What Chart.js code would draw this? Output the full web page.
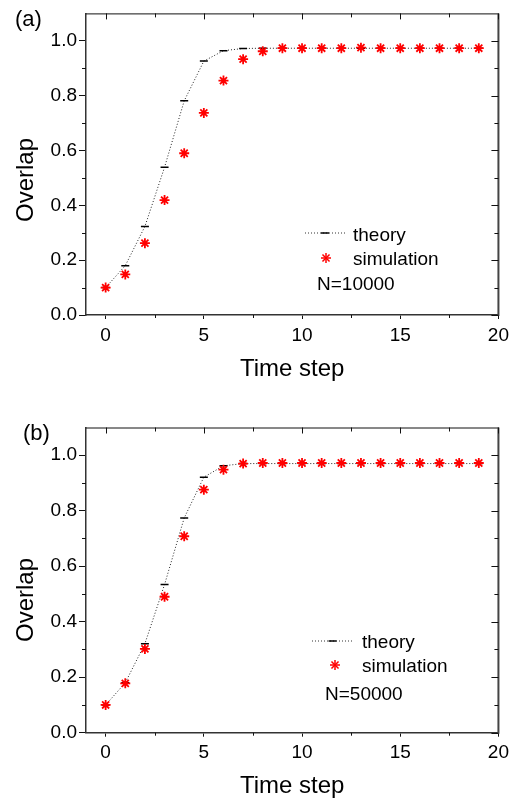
<!DOCTYPE html>
<html>
<head>
<meta charset="utf-8">
<script src="https://cdn.jsdelivr.net/npm/chart.js@4.4.1/dist/chart.umd.min.js"></script>
<style>
  body { margin: 0; background: #fff; }
  canvas { position: absolute; left: 0; }
  #chartA { top: 0; }
  #chartB { top: 400px; }
</style>
</head>
<body>
<canvas id="chartA" width="514" height="400"></canvas>
<canvas id="chartB" width="514" height="403"></canvas>
<script>
  // data
  var timeSteps = [0, 1, 2, 3, 4, 5, 6, 7, 8, 9, 10, 11, 12, 13, 14, 15, 16, 17, 18, 19];

  var theoryA = [0.100, 0.180, 0.323, 0.539, 0.781, 0.926, 0.964, 0.972, 0.973, 0.973,
                 0.973, 0.973, 0.973, 0.973, 0.973, 0.973, 0.973, 0.973, 0.973, 0.973];
  var simA    = [0.100, 0.148, 0.262, 0.419, 0.590, 0.737, 0.855, 0.933, 0.962, 0.973,
                 0.973, 0.973, 0.973, 0.975, 0.973, 0.973, 0.973, 0.973, 0.973, 0.973];

  var theoryB = [0.100, 0.180, 0.321, 0.534, 0.774, 0.921, 0.962, 0.970, 0.970, 0.970,
                 0.970, 0.970, 0.970, 0.970, 0.970, 0.970, 0.970, 0.970, 0.970, 0.970];
  var simB    = [0.100, 0.178, 0.302, 0.490, 0.708, 0.876, 0.948, 0.970, 0.972, 0.972,
                 0.972, 0.972, 0.972, 0.972, 0.972, 0.972, 0.972, 0.972, 0.972, 0.972];

  var xTicks = [0, 5, 10, 15, 20];
  var yTicks = [0, 0.2, 0.4, 0.6, 0.8, 1.0];

  Chart.defaults.font.family = '"Liberation Sans", Arial, sans-serif';
  Chart.defaults.color = '#000';

  function toPoints(ys) {
    return timeSteps.map(function (t, i) { return { x: t, y: ys[i] }; });
  }

  function seg(ctx, x1, y1, x2, y2) {
    ctx.beginPath(); ctx.moveTo(x1, y1); ctx.lineTo(x2, y2); ctx.stroke();
  }

  function asterisk(ctx, x, y, r) {
    var d = r * Math.SQRT1_2;
    seg(ctx, x - r, y, x + r, y);
    seg(ctx, x, y - r, x, y + r);
    seg(ctx, x - d, y - d, x + d, y + d);
    seg(ctx, x - d, y + d, x + d, y - d);
  }

  // box frame, minor / mirrored ticks, legend and labels
  var decor = {
    id: 'decor',
    afterDraw: function (chart, args, o) {
      var ctx = chart.ctx, a = chart.chartArea;
      var sx = chart.scales.x, sy = chart.scales.y;
      ctx.save();
      ctx.strokeStyle = '#111'; ctx.lineWidth = 1;
      seg(ctx, a.left, a.top + 0.5, a.right, a.top + 0.5);
      ctx.strokeStyle = '#444'; ctx.lineWidth = 2;
      seg(ctx, a.right, a.top, a.right, a.bottom + 1);

      ctx.strokeStyle = '#111'; ctx.lineWidth = 1;
      for (var v = 0; v <= 20; v += 2.5) {
        var px = Math.round(sx.getPixelForValue(v)) + 0.5;
        var maj = v % 5 === 0;
        seg(ctx, px, a.top, px, a.top + (maj ? 6 : 4));
        if (!maj) seg(ctx, px, a.bottom, px, a.bottom + 3);
      }
      for (var k = 0; k <= 10; k++) {
        var py = Math.round(sy.getPixelForValue(k / 10)) + 0.5;
        var majY = k % 2 === 0;
        seg(ctx, a.right, py, a.right - (majY ? 7 : 4), py);
        if (!majY) seg(ctx, a.left, py, a.left - 4, py);
      }

      // legend
      var L = o.legend;
      ctx.strokeStyle = '#333'; ctx.lineWidth = 1; ctx.setLineDash([1, 2]);
      seg(ctx, L.x1, L.y1, L.x2, L.y1);
      ctx.setLineDash([]);
      ctx.strokeStyle = '#000'; ctx.lineWidth = 1.5;
      var mid = (L.x1 + L.x2) / 2;
      seg(ctx, mid - 4, L.y1, mid + 4, L.y1);
      ctx.strokeStyle = 'rgb(255,0,0)'; ctx.lineWidth = 1.5;
      asterisk(ctx, L.starX, L.y2, 5);

      ctx.fillStyle = '#000';
      ctx.textBaseline = 'alphabetic'; ctx.textAlign = 'left';
      ctx.font = '19px "Liberation Sans", Arial, sans-serif';
      ctx.fillText('theory', L.textX, L.b1);
      ctx.fillText('simulation', L.textX, L.b2);
      ctx.fillText(o.note, L.noteX, L.b3);

      ctx.font = '22px "Liberation Sans", Arial, sans-serif';
      ctx.fillText(o.label, o.labelX, o.labelY);

      // y title
      ctx.font = '24px "Liberation Sans", Arial, sans-serif';
      ctx.translate(o.yTitleX, o.yTitleY);
      ctx.rotate(-Math.PI / 2);
      ctx.textAlign = 'center';
      ctx.fillText('Overlap', 0, 0);
      ctx.restore();
    }
  };

  function makePanel(id, theory, sim, padTop, xAxisH, titlePad, deco) {
    return new Chart(document.getElementById(id).getContext('2d'), {
      type: 'line',
      data: {
        datasets: [{
          label: 'simulation',
          data: toPoints(sim),
          showLine: false,
          pointStyle: 'star',
          pointRadius: 5,
          pointBorderWidth: 1.8,
          pointBorderColor: 'rgb(255,0,0)',
          pointBackgroundColor: 'rgb(255,0,0)',
          order: 0
        }, {
          label: 'theory',
          data: toPoints(theory),
          borderColor: '#222',
          borderWidth: 1,
          borderDash: [1, 2],
          tension: 0,
          fill: false,
          pointStyle: 'line',
          pointRadius: 4,
          pointBorderWidth: 1.5,
          pointBorderColor: '#000',
          order: 1
        }]
      },
      options: {
        responsive: false,
        animation: false,
        layout: { padding: { left: 0, right: 12, top: padTop, bottom: 0 } },
        plugins: {
          legend: { display: false },
          tooltip: { enabled: false },
          decor: deco
        },
        scales: {
          x: {
            type: 'linear', min: -1, max: 20,
            afterBuildTicks: function (s) { s.ticks = xTicks.map(function (v) { return { value: v }; }); },
            afterFit: function (s) { s.height = xAxisH; },
            grid: { display: true, drawOnChartArea: false, drawTicks: true, tickLength: 4, color: '#111' },
            border: { display: true, color: '#333', width: 1.5 },
            ticks: { font: { size: 19 }, color: '#000', padding: 5, maxRotation: 0, autoSkip: false },
            title: { display: true, text: 'Time step', font: { size: 24 }, color: '#000', padding: { top: 0, bottom: titlePad } }
          },
          y: {
            type: 'linear', min: 0, max: 1.1,
            afterBuildTicks: function (s) { s.ticks = yTicks.map(function (v) { return { value: v }; }); },
            afterFit: function (s) { s.width = 86; },
            grid: { display: true, drawOnChartArea: false, drawTicks: true, tickLength: 7, color: '#111' },
            border: { display: true, color: '#333', width: 1.5 },
            ticks: { font: { size: 19 }, color: '#000', padding: 2, callback: function (v) { return v.toFixed(1); } }
          }
        }
      },
      plugins: [decor]
    });
  }

  makePanel('chartA', theoryA, simA, 9, 85, 16.5, {
    label: '(a)', labelX: 15, labelY: 25.5,
    yTitleX: 33, yTitleY: 180,
    note: 'N=10000',
    legend: { x1: 305, x2: 345, y1: 233, starX: 326, y2: 258, textX: 353, b1: 240.5, b2: 264.5, noteX: 317, b3: 290 }
  });

  makePanel('chartB', theoryB, simB, 27.5, 70.3, 2, {
    label: '(b)', labelX: 23, labelY: 40,
    yTitleX: 33, yTitleY: 200,
    note: 'N=50000',
    legend: { x1: 312, x2: 353, y1: 241, starX: 335, y2: 265, textX: 362, b1: 247.5, b2: 271.5, noteX: 325, b3: 300 }
  });
</script>
</body>
</html>
